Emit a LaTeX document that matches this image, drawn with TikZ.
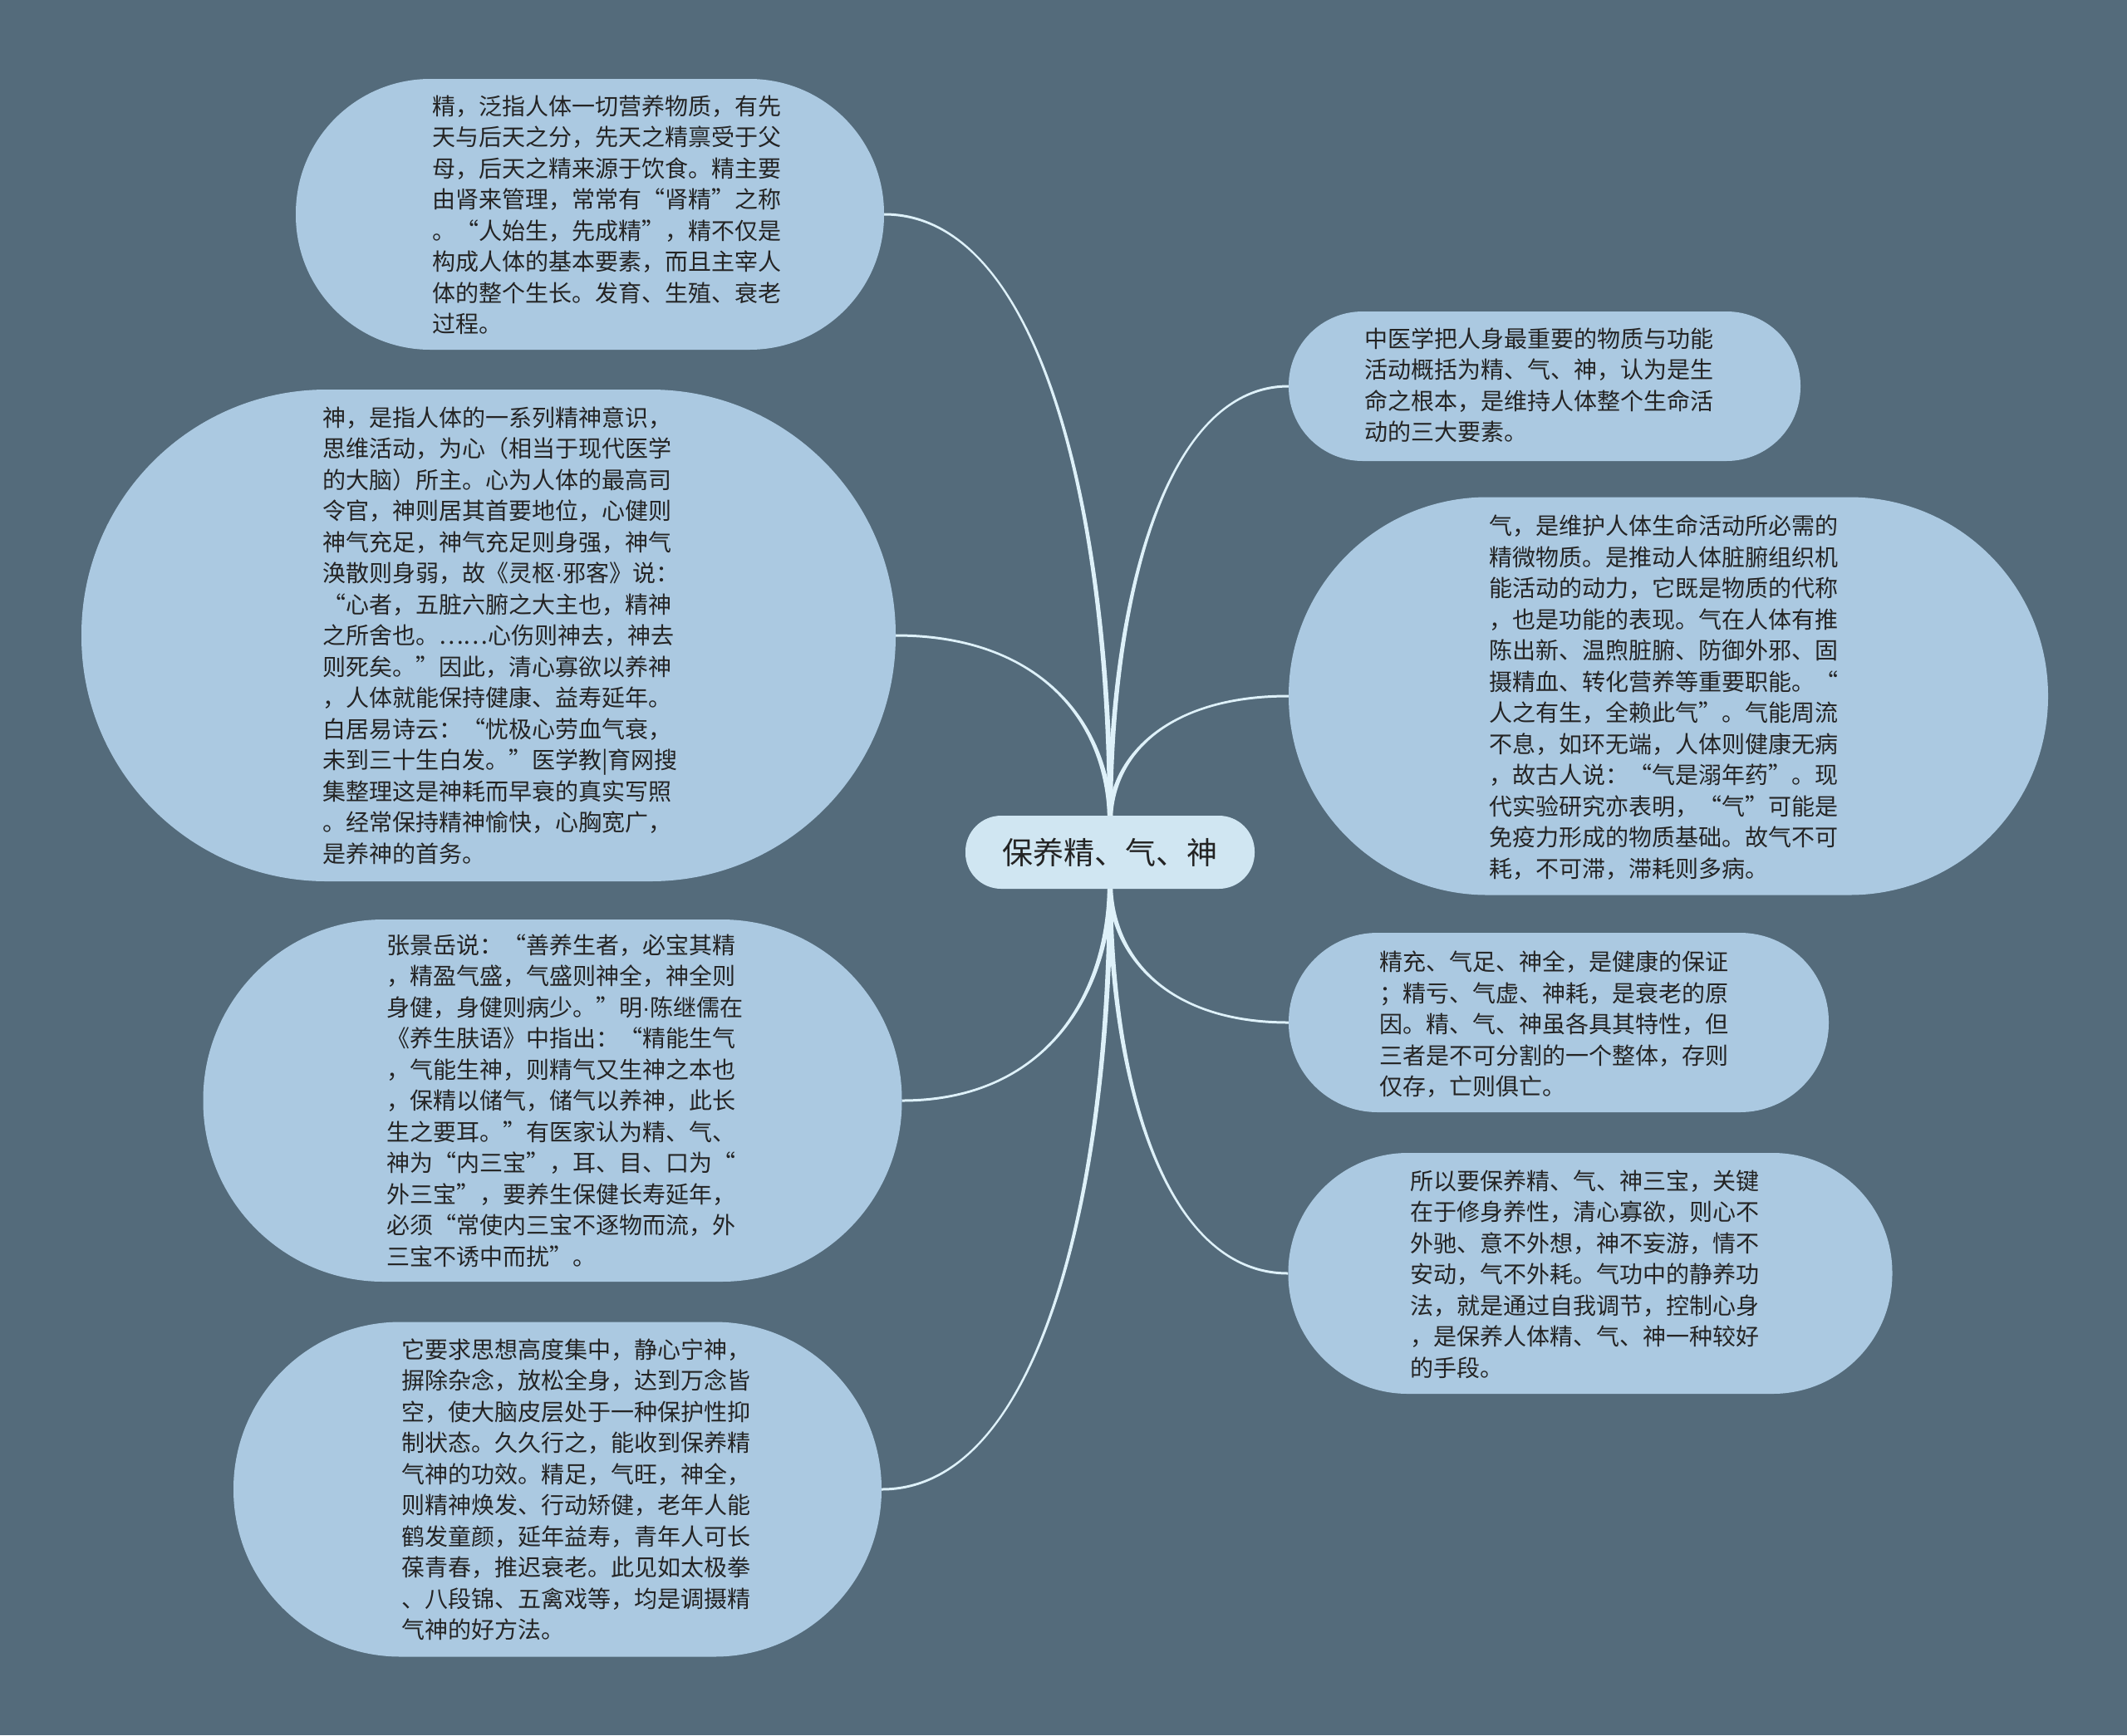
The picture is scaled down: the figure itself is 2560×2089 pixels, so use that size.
\documentclass[tikz,border=0pt]{standalone}
\usepackage{fontspec}
\setmainfont{Noto Sans CJK SC}
\newfontfamily\cjk{Noto Sans CJK SC}
\newfontfamily\latn{Liberation Sans}
\newcommand\mdot{{\latn ·}}
\usetikzlibrary{calc}
\pgfdeclarelayer{back}
\pgfdeclarelayer{bg}
\pgfsetlayers{back,bg,main}
\definecolor{bgcol}{RGB}{84,107,123}
\definecolor{pillcol}{RGB}{171,201,225}
\definecolor{centcol}{RGB}{208,230,242}
\definecolor{linecol}{RGB}{222,241,249}
\definecolor{txtcol}{RGB}{36,36,36}
\tikzset{
  pill/.style={fill=pillcol, draw=none, inner sep=0pt},
  centnode/.style={fill=centcol, draw=none, inner sep=0pt, text=txtcol, font=\cjk\fontsize{37}{44}\selectfont},
  bodytext/.style={anchor=north west, inner sep=0pt, align=left, text=txtcol, font=\cjk\fontsize{28}{37.5}\selectfont},
}
\newcommand\branch[3]{%
  \fill[linecol] let \p1=(#1), \p2=(#2) in
   ({\x1-3pt},\y1) .. controls ({\x1-3pt},{\y1+0.5*(\y2-\y1)}) and ({\x1+0.3*(\x2-\x1)},{\y2+(#3)}) .. (\x2,{\y2+(#3)})
   -- (\x2,{\y2-(#3)}) .. controls ({\x1+0.3*(\x2-\x1)},{\y2-(#3)}) and ({\x1+3pt},{\y1+0.5*(\y2-\y1)}) .. ({\x1+3pt},\y1) -- cycle;}
\begin{document}
\begin{tikzpicture}[x=1pt,y=-1pt]
\begin{pgfonlayer}{back}
\fill[bgcol] (0,0) rectangle (2560,2089);
\end{pgfonlayer}
\useasboundingbox (0,0) rectangle (2560,2089);

% central topic
\node[centnode, minimum width=348pt, minimum height=88pt, rounded corners=43pt] (c) at (1336,1026) {保养精、气、神};

% left pills
\node[pill, minimum width=708pt, minimum height=326pt, rounded corners=162pt] (n1) at (710,258) {};
\node[pill, minimum width=980pt, minimum height=592pt, rounded corners=295pt] (n2) at (588,765) {};
\node[pill, minimum width=841pt, minimum height=436pt, rounded corners=217pt] (n3) at (665,1325) {};
\node[pill, minimum width=780pt, minimum height=403pt, rounded corners=201pt] (n4) at (671,1793) {};
% right pills
\node[pill, minimum width=616pt, minimum height=180pt, rounded corners=89pt] (r1) at (1859,465) {};
\node[pill, minimum width=914pt, minimum height=479pt, rounded corners=239pt] (r2) at (2008,838) {};
\node[pill, minimum width=650pt, minimum height=216pt, rounded corners=107pt] (r3) at (1876,1231) {};
\node[pill, minimum width=727pt, minimum height=290pt, rounded corners=144pt] (r4) at (1914,1533) {};

% texts
\node[bodytext] (t1) at (520,114.5) {精，泛指人体一切营养物质，有先\\天与后天之分，先天之精禀受于父\\母，后天之精来源于饮食。精主要\\由肾来管理，常常有“肾精”之称\\。“人始生，先成精”，精不仅是\\构成人体的基本要素，而且主宰人\\体的整个生长。发育、生殖、衰老\\过程。};
\node[bodytext] (t2) at (388,489.5) {神，是指人体的一系列精神意识，\\思维活动，为心（相当于现代医学\\的大脑）所主。心为人体的最高司\\令官，神则居其首要地位，心健则\\神气充足，神气充足则身强，神气\\涣散则身弱，故《灵枢\mdot 邪客》说：\\“心者，五脏六腑之大主也，精神\\之所舍也。……心伤则神去，神去\\则死矣。”因此，清心寡欲以养神\\，人体就能保持健康、益寿延年。\\白居易诗云：“忧极心劳血气衰，\\未到三十生白发。”医学教|育网搜\\集整理这是神耗而早衰的真实写照\\。经常保持精神愉快，心胸宽广，\\是养神的首务。};
\node[bodytext] (t3) at (465,1124.5) {张景岳说：“善养生者，必宝其精\\，精盈气盛，气盛则神全，神全则\\身健，身健则病少。”明\mdot 陈继儒在\\《养生肤语》中指出：“精能生气\\，气能生神，则精气又生神之本也\\，保精以储气，储气以养神，此长\\生之要耳。”有医家认为精、气、\\神为“内三宝”，耳、目、口为“\\外三宝”，要养生保健长寿延年，\\必须“常使内三宝不逐物而流，外\\三宝不诱中而扰”。};
\node[bodytext] (t4) at (483,1611.5) {它要求思想高度集中，静心宁神，\\摒除杂念，放松全身，达到万念皆\\空，使大脑皮层处于一种保护性抑\\制状态。久久行之，能收到保养精\\气神的功效。精足，气旺，神全，\\则精神焕发、行动矫健，老年人能\\鹤发童颜，延年益寿，青年人可长\\葆青春，推迟衰老。此见如太极拳\\、八段锦、五禽戏等，均是调摄精\\气神的好方法。};
\node[bodytext] (u1) at (1642,394.5) {中医学把人身最重要的物质与功能\\活动概括为精、气、神，认为是生\\命之根本，是维持人体整个生命活\\动的三大要素。};
\node[bodytext] (u2) at (1792,619.5) {气，是维护人体生命活动所必需的\\精微物质。是推动人体脏腑组织机\\能活动的动力，它既是物质的代称\\，也是功能的表现。气在人体有推\\陈出新、温煦脏腑、防御外邪、固\\摄精血、转化营养等重要职能。“\\人之有生，全赖此气”。气能周流\\不息，如环无端，人体则健康无病\\，故古人说：“气是溺年药”。现\\代实验研究亦表明，“气”可能是\\免疫力形成的物质基础。故气不可\\耗，不可滞，滞耗则多病。};
\node[bodytext] (u3) at (1660,1144.5) {精充、气足、神全，是健康的保证\\；精亏、气虚、神耗，是衰老的原\\因。精、气、神虽各具其特性，但\\三者是不可分割的一个整体，存则\\仅存，亡则俱亡。};
\node[bodytext] (u4) at (1697,1408.5) {所以要保养精、气、神三宝，关键\\在于修身养性，清心寡欲，则心不\\外驰、意不外想，神不妄游，情不\\安动，气不外耗。气功中的静养功\\法，就是通过自我调节，控制心身\\，是保养人体精、气、神一种较好\\的手段。};

% connectors
\begin{pgfonlayer}{bg}
\coordinate (ctop) at ($(c.north)+(0,8)$);
\coordinate (cbot) at ($(c.south)+(0,-8)$);
\branch{ctop}{n1.east}{-1.5pt}
\branch{ctop}{n2.east}{-1.5pt}
\branch{cbot}{n3.east}{1.5pt}
\branch{cbot}{n4.east}{1.5pt}
\branch{ctop}{r1.west}{1.5pt}
\branch{ctop}{r2.west}{1.5pt}
\branch{cbot}{r3.west}{-1.5pt}
\branch{cbot}{r4.west}{-1.5pt}
\end{pgfonlayer}
\end{tikzpicture}
\end{document}
